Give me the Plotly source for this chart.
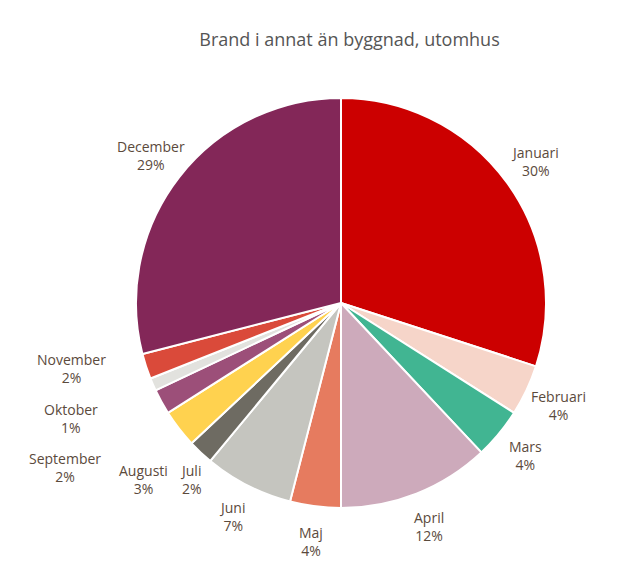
import math
import plotly.graph_objects as go

months = ["Januari", "Februari", "Mars", "April", "Maj", "Juni", "Juli",
          "Augusti", "September", "Oktober", "November", "December"]
shares = [30, 4, 4, 12, 4, 7, 2, 3, 2, 1, 2, 29]
colors = ["#cc0000", "#f6d5c9", "#41b592", "#cdaabb", "#e67b5f", "#c5c5bf",
          "#6e6b62", "#ffd24f", "#9c4f79", "#e2e2de", "#da4a3a", "#832758"]

W, H = 621, 567
CX, CY, R = 333, 295, 205
LABEL_R = 240
# crowded small slices get hand-placed labels (pixel centres)
label_override = {
    "Juli": (183, 471), "Augusti": (135, 471), "September": (57, 459),
    "Oktober": (63, 410), "November": (63, 360),
}

fig = go.Figure(go.Pie(
    labels=months,
    values=shares,
    sort=False,
    direction="clockwise",
    rotation=0,
    marker=dict(colors=colors, line=dict(color="white", width=2)),
    textinfo="none",
    domain=dict(x=[(CX - R) / W, (CX + R) / W], y=[1 - (CY + R) / H, 1 - (CY - R) / H]),
    showlegend=False,
    hoverinfo="label+percent",
))

total = sum(shares)
cum = 0
for name, v in zip(months, shares):
    mid = (cum + v / 2) / total
    cum += v
    th = 2 * math.pi * mid
    px_, py_ = label_override.get(name, (CX + LABEL_R * math.sin(th), CY - LABEL_R * math.cos(th)))
    fig.add_annotation(
        x=px_ / W, y=1 - py_ / H, xref="paper", yref="paper",
        text=f"{name}<br>{v}%", showarrow=False,
        xanchor="center", yanchor="middle", align="center",
        font=dict(family="Open Sans", size=14, color="#5b4a3c"),
    )

fig.update_layout(
    width=W, height=H,
    margin=dict(l=0, r=0, t=0, b=0),
    paper_bgcolor="white",
    title=dict(text="Brand i annat än byggnad, utomhus", x=0.55, y=0.955,
               xanchor="center", font=dict(family="Open Sans", size=18, color="#555555")),
)

fig.write_html("out.html")
